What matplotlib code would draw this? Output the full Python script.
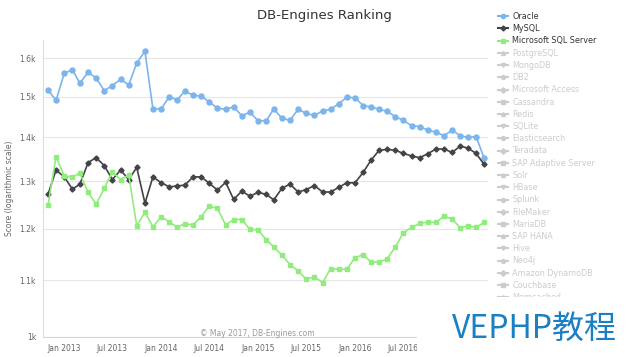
import matplotlib
matplotlib.use('Agg')
import matplotlib.pyplot as plt
import matplotlib.dates as mdates
from matplotlib.lines import Line2D
from matplotlib.patches import Rectangle
from matplotlib.ticker import FixedLocator, FixedFormatter, NullLocator
import pandas as pd

#--- Monthly scores (Nov 2012 .. May 2017)
months = pd.date_range('2012-11-01', '2017-05-01', freq='MS')

oracle = [1517, 1490,
          1560, 1569, 1534, 1563, 1547, 1515, 1528, 1544, 1530, 1587, 1619, 1469,
          1469, 1500, 1491, 1514, 1503, 1501, 1486, 1471, 1468, 1474, 1452, 1461,
          1440, 1440, 1469, 1446, 1441, 1468, 1458, 1453, 1464, 1468, 1482, 1498,
          1497, 1477, 1474, 1468, 1463, 1450, 1441, 1428, 1426, 1417, 1413, 1404,
          1417, 1404, 1400, 1402, 1353]
mysql = [1272, 1325,
         1310, 1283, 1294, 1342, 1353, 1335, 1304, 1325, 1304, 1331, 1253, 1310,
         1297, 1288, 1290, 1292, 1310, 1310, 1296, 1281, 1298, 1261, 1279, 1268,
         1276, 1272, 1260, 1285, 1294, 1277, 1282, 1291, 1277, 1277, 1287, 1297,
         1297, 1320, 1347, 1370, 1372, 1370, 1363, 1357, 1353, 1362, 1373, 1373,
         1365, 1380, 1375, 1363, 1338]
mssql = [1249, 1355,
         1312, 1310, 1318, 1276, 1251, 1285, 1321, 1304, 1314, 1206, 1234, 1204,
         1225, 1214, 1204, 1210, 1208, 1225, 1247, 1242, 1208, 1219, 1219, 1199,
         1198, 1178, 1164, 1148, 1130, 1118, 1102, 1107, 1096, 1122, 1121, 1121,
         1143, 1149, 1135, 1134, 1141, 1164, 1192, 1203, 1211, 1214, 1213, 1226,
         1220, 1202, 1206, 1203, 1213]

hidden_names = ['PostgreSQL', 'MongoDB', 'DB2', 'Microsoft Access', 'Cassandra',
                'Redis', 'SQLite', 'Elasticsearch', 'Teradata', 'SAP Adaptive Server',
                'Solr', 'HBase', 'Splunk', 'FileMaker', 'MariaDB', 'SAP HANA', 'Hive',
                'Neo4j', 'Amazon DynamoDB', 'Couchbase', 'Memcached']

y_ticks = [1000, 1100, 1200, 1300, 1400, 1500, 1600]
y_labels = ['1k', '1.1k', '1.2k', '1.3k', '1.4k', '1.5k', '1.6k']

fig = plt.figure(figsize=(6.4, 3.57), dpi=100)
ax = fig.add_axes([43/640, 20/357, 445/640, 297/357])

ax.plot(months, oracle, color='#7cb5ec', marker='o', ms=3.6, lw=1.2, zorder=3)
ax.plot(months, mysql, color='#434348', marker='D', ms=2.6, lw=1.2, zorder=3)
ax.plot(months, mssql, color='#90ed7d', marker='s', ms=3.4, lw=1.2, zorder=3)

ax.set_yscale('log')
ax.set_ylim(1000, 1650)
ax.yaxis.set_major_locator(FixedLocator(y_ticks))
ax.yaxis.set_major_formatter(FixedFormatter(y_labels))
ax.yaxis.set_minor_locator(NullLocator())
ax.set_xlim(pd.Timestamp('2012-10-13'), pd.Timestamp('2017-05-16'))
ax.xaxis.set_major_locator(mdates.MonthLocator(bymonth=[1, 7]))
ax.xaxis.set_major_formatter(mdates.DateFormatter('%b %Y'))

ax.grid(axis='y', color='#e6e6e6', lw=0.8)
ax.tick_params(axis='both', length=0, labelsize=5.5, labelcolor='#666666', pad=5)
for s in ['top', 'right']:
    ax.spines[s].set_visible(False)
ax.spines['left'].set_color('#dddddd')
ax.spines['bottom'].set_color('#ccd6eb')
ax.set_ylabel('Score (logarithmic scale)', fontsize=5.5, color='#666666', labelpad=4)

fig.text(324/640, 1 - 16/357, 'DB-Engines Ranking', ha='center', va='center',
         fontsize=9.5, color='#333333')
fig.text(315/640, 1 - 334/357, '\u00a9 May 2017, DB-Engines.com', ha='right', va='center',
         fontsize=5.5, color='#999999')

#--- legend: three shown series plus greyed-out hidden ones
markers = ['o', 'D', 's', '^', 'v']
handles = [Line2D([], [], color='#7cb5ec', marker='o', ms=3),
           Line2D([], [], color='#434348', marker='D', ms=2.5),
           Line2D([], [], color='#90ed7d', marker='s', ms=3)]
labels = ['Oracle', 'MySQL', 'Microsoft SQL Server']
for i, name in enumerate(hidden_names):
    handles.append(Line2D([], [], color='#cccccc', marker=markers[(i + 3) % 5], ms=2.8))
    labels.append(name)
colors = ['#333333'] * 3 + ['#cccccc'] * len(hidden_names)
fig.legend(handles, labels, loc='upper left', bbox_to_anchor=(498/640, 1 - 12/357),
           frameon=False, fontsize=5.8, labelcolor=colors, handlelength=1.3,
           handletextpad=0.45, labelspacing=0.40, borderaxespad=0, borderpad=0)

#--- watermark box
fig.add_artist(Rectangle((417/640, 0), 223/640, 60/357, transform=fig.transFigure,
                         facecolor='white', edgecolor='none', zorder=10))
fig.text(452/640, 1 - 329/357, 'VEPHP教程', ha='left', va='center', fontsize=23,
         color='#1b7fc4', family=['Noto Sans CJK SC', 'DejaVu Sans'], zorder=11)

fig.savefig('out.png', dpi=100)
